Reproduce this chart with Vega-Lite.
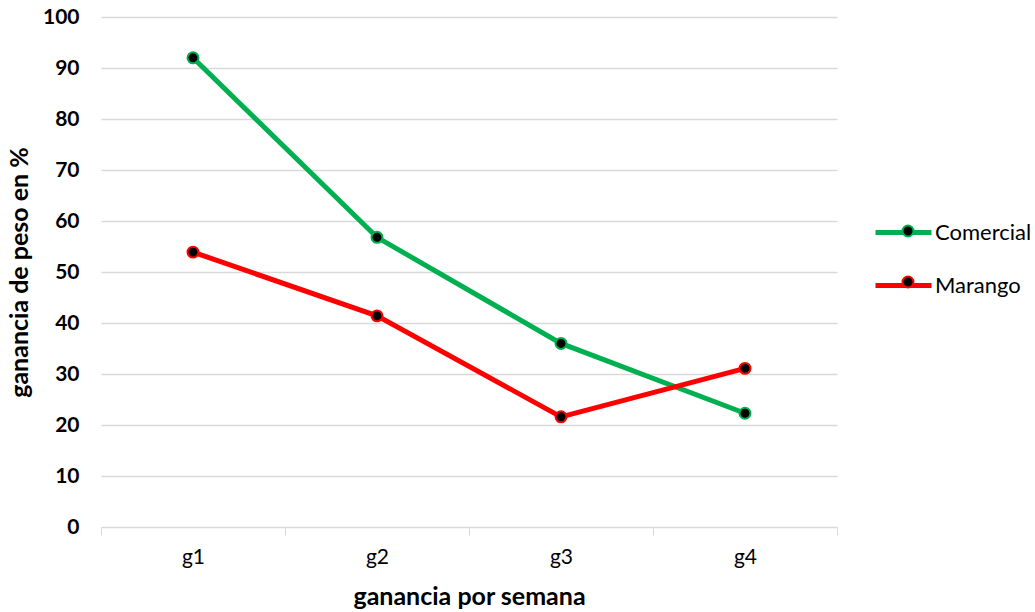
{
  "$schema": "https://vega.github.io/schema/vega-lite/v6.json",
  "width": 736,
  "height": 510,
  "autosize": {"type": "none"},
  "padding": {"left": 101, "top": 17, "right": 198, "bottom": 85},
  "background": "white",
  "config": {"view": {"stroke": null}, "font": "Lato"},
  "data": {
    "values": [
      {"semana": "g1", "serie": "Comercial", "ganancia": 92.0},
      {"semana": "g2", "serie": "Comercial", "ganancia": 56.8},
      {"semana": "g3", "serie": "Comercial", "ganancia": 36.0},
      {"semana": "g4", "serie": "Comercial", "ganancia": 22.3},
      {"semana": "g1", "serie": "Marango", "ganancia": 53.9},
      {"semana": "g2", "serie": "Marango", "ganancia": 41.4},
      {"semana": "g3", "serie": "Marango", "ganancia": 21.6},
      {"semana": "g4", "serie": "Marango", "ganancia": 31.1}
    ]
  },
  "encoding": {
    "x": {
      "field": "semana",
      "type": "nominal",
      "sort": null,
      "scale": {"paddingInner": 0, "paddingOuter": 0},
      "axis": {
        "title": "ganancia por semana",
        "titleFontSize": 25,
        "titleFontWeight": "bold",
        "titleColor": "black",
        "titlePadding": 17,
        "labelAngle": 0,
        "labelFontSize": 21,
        "labelColor": "black",
        "labelPadding": 11,
        "tickBand": "extent",
        "ticks": true,
        "tickSize": 8,
        "tickColor": "#d9d9d9",
        "domainColor": "#d9d9d9",
        "grid": false
      }
    },
    "y": {
      "field": "ganancia",
      "type": "quantitative",
      "scale": {"domain": [0, 100], "nice": false},
      "axis": {
        "title": "ganancia de peso en %",
        "titleFontSize": 25,
        "titleFontWeight": "bold",
        "titleColor": "black",
        "titlePadding": 10,
        "values": [0, 10, 20, 30, 40, 50, 60, 70, 80, 90, 100],
        "labelFontSize": 21,
        "labelFontWeight": "bold",
        "labelColor": "black",
        "labelPadding": 22,
        "ticks": false,
        "tickSize": 0,
        "domain": false,
        "grid": true,
        "gridColor": "#d9d9d9",
        "gridWidth": 1.5
      }
    }
  },
  "layer": [
    {
      "mark": {"type": "line", "strokeWidth": 5},
      "encoding": {
        "color": {
          "field": "serie",
          "type": "nominal",
          "scale": {"range": ["#00B050", "#FF0000"]},
          "legend": {
            "title": null,
            "orient": "none",
            "legendX": 772,
            "legendY": 185,
            "padding": 0,
            "symbolType": "stroke",
            "symbolSize": 3136,
            "symbolStrokeWidth": 5,
            "labelFontSize": 22,
            "labelColor": "black",
            "labelOffset": 1,
            "rowPadding": 11
          }
        }
      }
    },
    {
      "mark": {"type": "point", "filled": true, "fill": "black", "size": 120, "strokeWidth": 2, "opacity": 1},
      "encoding": {
        "stroke": {
          "field": "serie",
          "type": "nominal",
          "scale": {"domain": ["Comercial", "Marango"], "range": ["#00B050", "#FF0000"]},
          "legend": {
            "title": null,
            "orient": "none",
            "legendX": 796,
            "legendY": 203,
            "padding": 0,
            "symbolType": "circle",
            "symbolSize": 121,
            "symbolStrokeWidth": 2,
            "symbolFillColor": "black",
            "labelExpr": "''",
            "labelFontSize": 22,
            "labelOffset": 1,
            "rowPadding": 29
          }
        }
      }
    }
  ]
}
